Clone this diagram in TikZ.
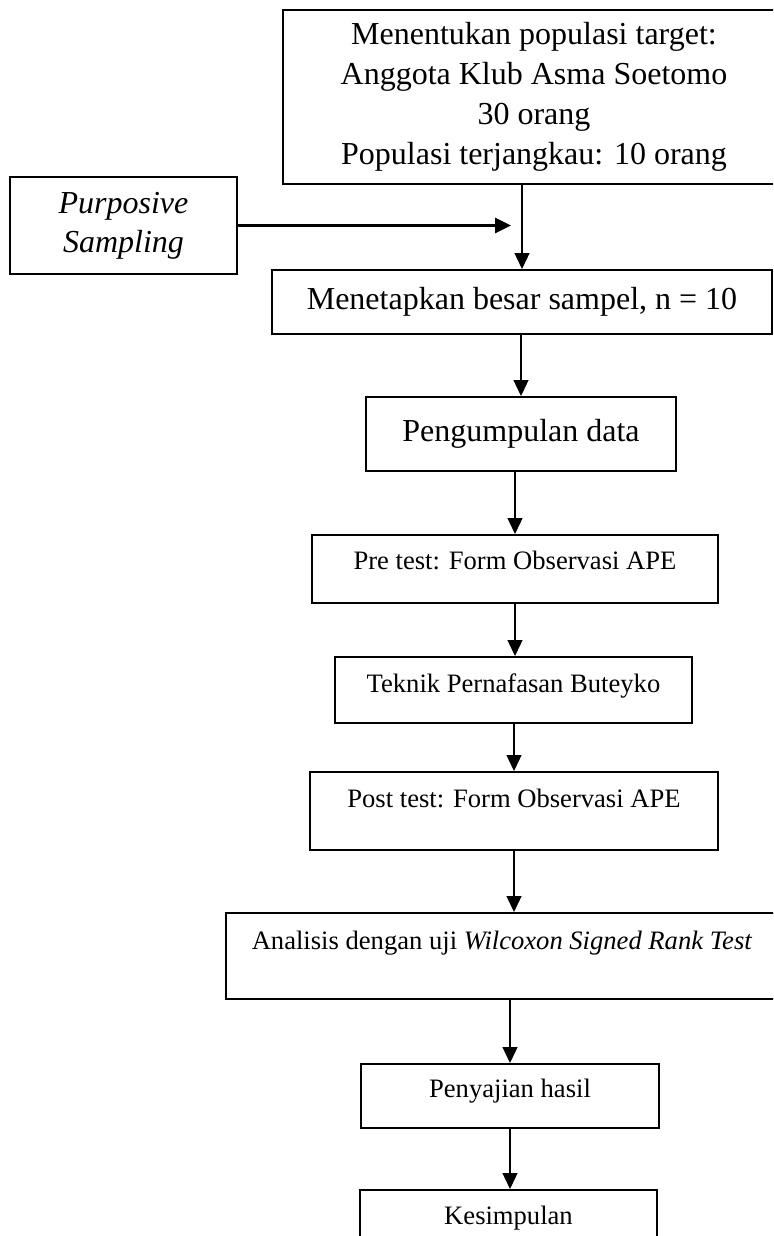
\documentclass[tikz,border=0pt]{standalone}
\usepackage{fontspec}
\setmainfont{Liberation Serif}
\usetikzlibrary{arrows.meta}

\begin{document}
\begin{tikzpicture}[x=0.5pt, y=-0.5pt,
        box/.style={rectangle, draw, line width=1pt, inner sep=0pt, align=center},
        bigtext/.style={font=\fontsize{16}{20}\selectfont},
        italictext/.style={font=\fontsize{16}{19.5}\selectfont\itshape},
        smalltext/.style={font=\fontsize{13.3}{16}\selectfont, text height=9pt},
        arrow/.style={-{Triangle[length=8pt, width=7.5pt]}, line width=0.65pt},
        thickarrow/.style={arrow, line width=1.35pt}
    ]
    \useasboundingbox (0,0) rectangle (773,1236);
    \clip (0,0) rectangle (773,1236);

    % Population and sampling
    \node[box, bigtext, minimum width=251pt, minimum height=86.5pt] (target) at (534,97) {Menentukan populasi target:\\Anggota Klub Asma Soetomo\\30 orang\\Populasi terjangkau: 10 orang};
    \node[box, italictext, minimum width=113.5pt, minimum height=48.5pt] (purposive) at (123.5,225.5) {Purposive\\Sampling};
    \node[box, bigtext, minimum width=250pt, minimum height=32pt] (sampel) at (522,302) {Menetapkan besar sampel, n = 10};
    \coordinate (merge) at (511,225.5);
    \draw[thickarrow] (purposive) -- (merge);
    \draw[arrow] (target.south -| sampel.north) -- (sampel.north);

    % Data collection
    \node[box, bigtext, minimum width=155pt, minimum height=37pt] (kumpul) at (521,434) {Pengumpulan data};
    \node[box, smalltext, text depth=9pt, minimum width=203pt, minimum height=34pt] (pretest) at (515,569) {Pre test: Form Observasi APE};
    \node[box, smalltext, text depth=7pt, minimum width=178.5pt, minimum height=33pt] (buteyko) at (513.5,690) {Teknik Pernafasan Buteyko};
    \node[box, smalltext, text depth=13pt, minimum width=204pt, minimum height=39pt] (posttest) at (514,811) {Post test: Form Observasi APE};
    \draw[arrow] (sampel.south -| kumpul.north) -- (kumpul.north);
    \draw[arrow] (kumpul.south -| pretest.north) -- (pretest.north);
    \draw[arrow] (pretest.south) -- (pretest.south |- buteyko.north);
    \draw[arrow] (buteyko.south -| posttest.north) -- (posttest.north);

    % Analysis and results
    \node[box, smalltext, text depth=16pt, minimum width=276pt, minimum height=43pt] (analisis) at (502,956) {Analisis dengan uji \textit{Wilcoxon Signed Rank Test}};
    \node[box, smalltext, text depth=8pt, minimum width=149pt, minimum height=32pt] (hasil) at (510,1096) {Penyajian hasil};
    \node[box, smalltext, text depth=7pt, minimum width=148.5pt, minimum height=32pt] (simpulan) at (508.5,1222) {Kesimpulan};
    \draw[arrow] (posttest.south) -- (posttest.south |- analisis.north);
    \draw[arrow] (analisis.south -| hasil.north) -- (hasil.north);
    \draw[arrow] (hasil.south) -- (hasil.south |- simpulan.north);
\end{tikzpicture}
\end{document}
